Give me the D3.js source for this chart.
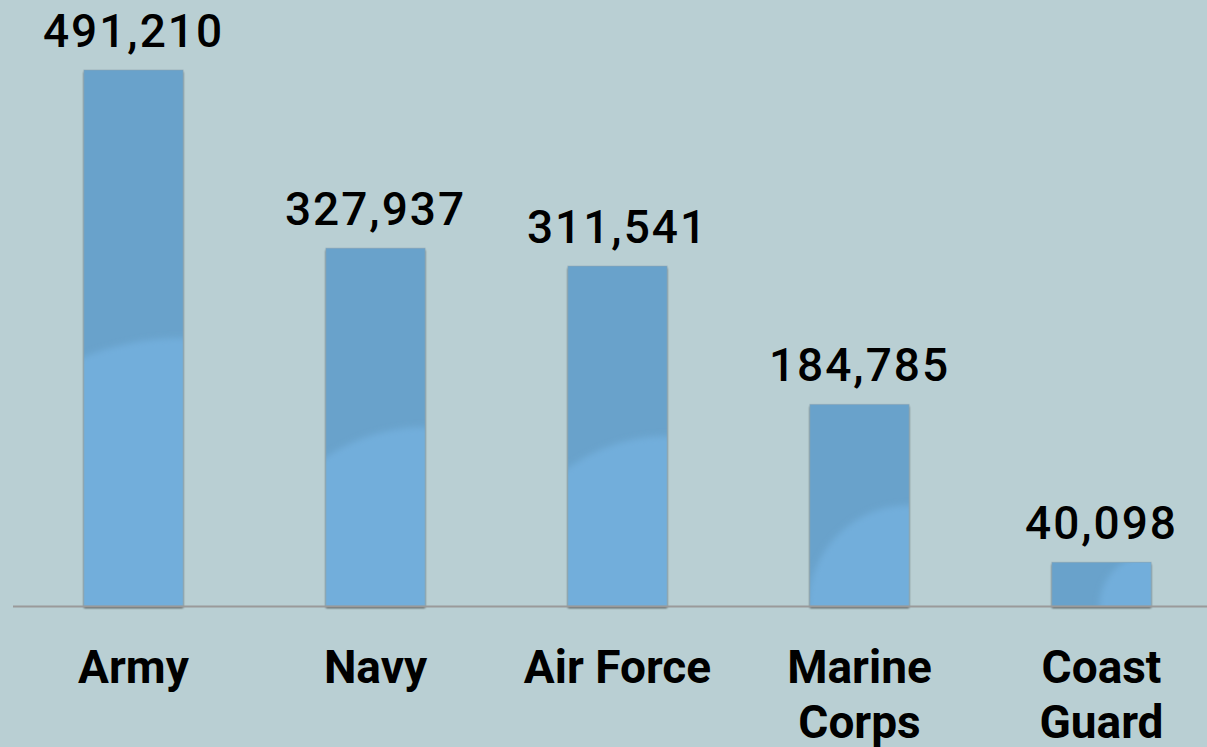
<!DOCTYPE html>
<html>
<head>
<meta charset="utf-8">
<script src="https://cdn.jsdelivr.net/npm/d3@7"></script>
<style>
    html, body { margin: 0; padding: 0; background: #b9cfd3; }
    svg { display: block; }
    .value-label { font-family: Roboto, "Liberation Sans", sans-serif; font-weight: 500; font-size: 46px; fill: #000; letter-spacing: 2px; }
    .cat-label { font-family: Roboto, "Liberation Sans", sans-serif; font-weight: 700; font-size: 46px; fill: #000; }
</style>
</head>
<body>
<div id="chart"></div>
<script>
// Chart data
const categories = ['Army', 'Navy', 'Air Force', 'Marine Corps', 'Coast Guard'];
const categoryLines = [['Army'], ['Navy'], ['Air Force'], ['Marine', 'Corps'], ['Coast', 'Guard']];
const personnel = [491210, 327937, 311541, 184785, 40098];

const width = 1207;
const height = 747;
const baseY = 606;

const svg = d3.select('#chart')
    .append('svg')
    .attr('width', width)
    .attr('height', height);

svg.append('rect')
    .attr('width', width)
    .attr('height', height)
    .attr('fill', '#b9cfd3');

const defs = svg.append('defs');

// soft shadow round the bars
const shadow = defs.append('filter')
    .attr('id', 'bar-shadow')
    .attr('x', '-20%').attr('y', '-20%')
    .attr('width', '140%').attr('height', '140%');
shadow.append('feGaussianBlur')
    .attr('in', 'SourceAlpha')
    .attr('stdDeviation', 1.2)
    .attr('result', 'blur');
shadow.append('feOffset')
    .attr('in', 'blur')
    .attr('dy', 2)
    .attr('result', 'off');
shadow.append('feComponentTransfer')
    .attr('in', 'off')
    .attr('result', 'shade')
    .append('feFuncA')
    .attr('type', 'linear')
    .attr('slope', 0.7);
const merge = shadow.append('feMerge');
merge.append('feMergeNode').attr('in', 'shade');
merge.append('feMergeNode').attr('in', 'SourceGraphic');

// blur for the gloss edge
defs.append('filter')
    .attr('id', 'gloss-blur')
    .append('feGaussianBlur')
    .attr('stdDeviation', 3);

// Scales
const x = d3.scaleBand()
    .domain(categories)
    .range([12.5, 1222.5])
    .paddingInner(0.59)
    .paddingOuter(0.295);

const y = d3.scaleLinear()
    .domain([0, 500000])
    .range([baseY, baseY - 545.6]);

const data = categories.map((c, i) => ({ name: c, value: personnel[i], lines: categoryLines[i] }));

// Bars
const bars = svg.selectAll('.bar')
    .data(data)
    .enter()
    .append('g')
    .attr('class', 'bar');

bars.each(function(d, i) {
    const g = d3.select(this);
    const bx = x(d.name);
    const bw = x.bandwidth();
    const top = y(d.value);
    const h = baseY - top;

    defs.append('clipPath')
        .attr('id', `clip-${i}`)
        .append('rect')
        .attr('x', bx)
        .attr('y', top)
        .attr('width', bw)
        .attr('height', h);

    g.append('rect')
        .attr('x', bx)
        .attr('y', top)
        .attr('width', bw)
        .attr('height', h)
        .attr('fill', '#69a2cb')
        .attr('filter', 'url(#bar-shadow)');

    const r = Math.max(h * 0.5, bw * 0.52);
    g.append('g')
        .attr('clip-path', `url(#clip-${i})`)
        .append('circle')
        .attr('cx', bx + bw)
        .attr('cy', baseY)
        .attr('r', r)
        .attr('fill', '#72aedb')
        .attr('filter', 'url(#gloss-blur)');

    // thin side edges
    g.append('rect')
        .attr('x', bx)
        .attr('y', top)
        .attr('width', bw)
        .attr('height', h)
        .attr('fill', 'none')
        .attr('stroke', '#8fa4ae')
        .attr('stroke-opacity', 0.5)
        .attr('stroke-width', 1);
});

// Baseline
svg.append('line')
    .attr('x1', 13)
    .attr('x2', width)
    .attr('y1', baseY + 0.5)
    .attr('y2', baseY + 0.5)
    .attr('stroke', '#9a9a9a')
    .attr('stroke-width', 2);

// Value labels
svg.selectAll('.value-label')
    .data(data)
    .enter()
    .append('text')
    .attr('class', 'value-label')
    .attr('x', d => x(d.name) + x.bandwidth() / 2)
    .attr('y', d => y(d.value) - 23)
    .attr('text-anchor', 'middle')
    .text(d => d3.format(',')(d.value));

// Category labels
const catLabels = svg.selectAll('.cat-label')
    .data(data)
    .enter()
    .append('text')
    .attr('class', 'cat-label')
    .attr('text-anchor', 'middle');

catLabels.selectAll('tspan')
    .data(d => d.lines.map(line => ({ line, cx: x(d.name) + x.bandwidth() / 2 })))
    .enter()
    .append('tspan')
    .attr('x', t => t.cx)
    .attr('y', (t, j) => 683 + j * 55)
    .text(t => t.line);
</script>
</body>
</html>
